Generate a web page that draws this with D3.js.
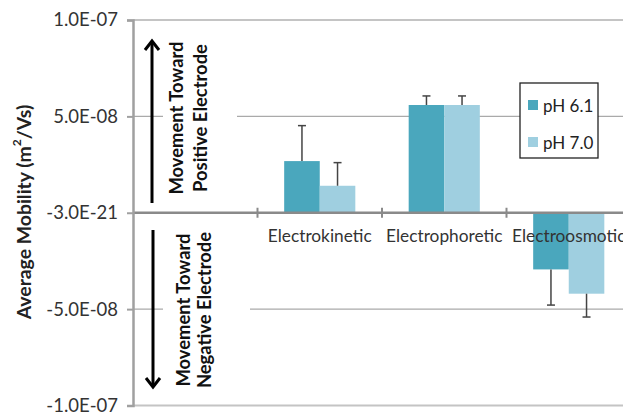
<!DOCTYPE html>
<html lang="en">
<head>
  <meta charset="UTF-8">
  <title>Average Mobility</title>
  <style>
    body { margin: 0; background: #fff; font-family: Lato, "Open Sans", sans-serif; }
    .tick text { fill: #333; }
  </style>
  <script src="https://d3js.org/d3.v7.min.js"></script>
</head>
<body>
  <div id="chart"></div>
  <script>
    var categories = ["", "Electrokinetic", "Electrophoretic", "Electroosmotic"];
    var series = ["pH 6.1", "pH 7.0"];
    var ph61 = [0, 2.68e-8, 5.59e-8, -2.94e-8];
    var ph70 = [0, 1.40e-8, 5.59e-8, -4.20e-8];
    var err61 = [0, 1.84e-8, 0.47e-8, 1.85e-8];
    var err70 = [0, 1.20e-8, 0.47e-8, 1.21e-8];
    var yTicks = [1e-7, 5e-8, 0, -5e-8, -1e-7];
    var yTickLabels = ["1.0E-07", "5.0E-08", "-3.0E-21", "-5.0E-08", "-1.0E-07"];
    var colors = ["#4aa7bd", "#9fcfe0"];

    var width = 623, height = 417;
    var plotL = 133, plotR = 631, plotT = 20, plotB = 405.5;

    var svg = d3.select("#chart").append("svg")
      .attr("width", width).attr("height", height);

    var x = d3.scaleBand().domain(categories).range([plotL, plotR]);
    var xs = d3.scaleBand().domain(series).range([0, x.bandwidth()]).paddingOuter(0.75);
    var y = d3.scaleLinear().domain([-1e-7, 1e-7]).range([plotB, plotT]);

    // gridlines
    svg.append("g").selectAll("line")
      .data(yTicks.filter(function(d) { return d !== 0; }))
      .enter().append("line")
      .attr("x1", plotL).attr("x2", width)
      .attr("y1", function(d) { return y(d); })
      .attr("y2", function(d) { return y(d); })
      .attr("stroke", function(d) { return Math.abs(d) === 1e-7 ? "#c4c4c4" : "#aaa"; })
      .attr("stroke-width", function(d) { return Math.abs(d) === 1e-7 ? 2 : 1.2; });

    // bars
    var rows = categories.map(function(c, i) {
      return [
        { cat: c, s: series[0], v: ph61[i], e: err61[i] },
        { cat: c, s: series[1], v: ph70[i], e: err70[i] }
      ];
    });
    var flat = [].concat.apply([], rows).filter(function(d) { return d.v !== 0; });

    svg.append("g").selectAll("rect")
      .data(flat).enter().append("rect")
      .attr("x", function(d) { return x(d.cat) + xs(d.s); })
      .attr("width", xs.bandwidth())
      .attr("y", function(d) { return y(Math.max(0, d.v)); })
      .attr("height", function(d) { return Math.abs(y(d.v) - y(0)); })
      .attr("fill", function(d) { return colors[series.indexOf(d.s)]; });

    // error bars (one-sided)
    var eb = svg.append("g").attr("stroke", "#444").attr("stroke-width", 1.5);
    flat.forEach(function(d) {
      var cx = x(d.cat) + xs(d.s) + xs.bandwidth() / 2;
      var end = d.v > 0 ? d.v + d.e : d.v - d.e;
      eb.append("line").attr("x1", cx).attr("x2", cx)
        .attr("y1", y(d.v)).attr("y2", y(end));
      eb.append("line").attr("x1", cx - 4).attr("x2", cx + 4)
        .attr("y1", y(end)).attr("y2", y(end));
    });

    // zero axis with category ticks
    svg.append("line")
      .attr("x1", plotL).attr("x2", width)
      .attr("y1", y(0)).attr("y2", y(0))
      .attr("stroke", "#8a8a8a").attr("stroke-width", 2.5);
    svg.append("g").selectAll("line")
      .data(categories.slice(1)).enter().append("line")
      .attr("x1", function(d) { return x(d); })
      .attr("x2", function(d) { return x(d); })
      .attr("y1", y(0) - 5).attr("y2", y(0) + 5)
      .attr("stroke", "#8a8a8a").attr("stroke-width", 2);

    svg.append("g").selectAll("text")
      .data(categories.slice(1)).enter().append("text")
      .attr("x", function(d) { return x(d) + x.bandwidth() / 2; })
      .attr("y", y(0) + 29)
      .attr("text-anchor", "middle")
      .attr("font-size", 17.3)
      .attr("fill", "#333")
      .text(function(d) { return d; });

    // y axis
    var yAxis = d3.axisLeft(y).tickValues(yTicks).tickSize(6).tickPadding(9)
      .tickFormat(function(d, i) { return yTickLabels[i]; });
    var ya = svg.append("g").attr("transform", "translate(" + plotL + ",0)").call(yAxis);
    ya.select(".domain").attr("stroke", "#a0a0a0").attr("stroke-width", 2.5);
    ya.selectAll(".tick line").attr("stroke", "#a0a0a0").attr("stroke-width", 2);
    ya.selectAll(".tick text").attr("font-size", 18.5).attr("font-family", "Lato, sans-serif");

    // axis title
    var title = svg.append("text")
      .attr("transform", "translate(23," + 212 + ") rotate(-90)")
      .attr("text-anchor", "middle")
      .attr("dominant-baseline", "central")
      .attr("font-weight", "bold")
      .attr("font-size", 19.4)
      .attr("fill", "#222");
    title.append("tspan").text("Average Mobility (m");
    title.append("tspan").attr("font-size", 12).attr("dy", -7).text("2");
    title.append("tspan").attr("dy", 7).text("/Vs)");

    // direction annotations
    var notes = [
      { ax: 152, y0: 203, y1: 41, dir: -1, tx: [176, 199.5], cy: 118,
        box: [163, 36, 74, 166], lines: ["Movement Toward", "Positive Electrode"] },
      { ax: 153, y0: 230, y1: 387, dir: 1, tx: [182.5, 203.5], cy: 310,
        box: [163, 228, 87, 164], lines: ["Movement Toward", "Negative Electrode"] }
    ];
    notes.forEach(function(n) {
      svg.append("rect").attr("x", n.box[0]).attr("y", n.box[1])
        .attr("width", n.box[2]).attr("height", n.box[3]).attr("fill", "#fff");
      svg.append("line").attr("x1", n.ax).attr("x2", n.ax)
        .attr("y1", n.y0).attr("y2", n.y1 - n.dir * 1.5)
        .attr("stroke", "#000").attr("stroke-width", 3);
      svg.append("path")
        .attr("d", "M" + (n.ax - 7) + "," + (n.y1 - n.dir * 9) + "L" + n.ax + "," + n.y1 +
          "L" + (n.ax + 7) + "," + (n.y1 - n.dir * 9))
        .attr("fill", "none").attr("stroke", "#000").attr("stroke-width", 3);
      n.lines.forEach(function(t, i) {
        svg.append("text")
          .attr("transform", "translate(" + n.tx[i] + "," + n.cy + ") rotate(-90)")
          .attr("text-anchor", "middle")
          .attr("dominant-baseline", "central")
          .attr("font-weight", "bold")
          .attr("font-size", 18.4)
          .attr("fill", "#111")
          .text(t);
      });
    });

    // legend
    var lg = svg.append("g").attr("transform", "translate(520,83)");
    lg.append("rect").attr("width", 78).attr("height", 75)
      .attr("fill", "#fff").attr("stroke", "#222").attr("stroke-width", 1.3);
    series.forEach(function(s, i) {
      var gy = 22 + i * 37;
      lg.append("rect").attr("x", 8).attr("y", gy - 5).attr("width", 10).attr("height", 10)
        .attr("fill", colors[i]);
      lg.append("text").attr("x", 23).attr("y", gy)
        .attr("dominant-baseline", "central")
        .attr("font-size", 17).attr("fill", "#222").text(s);
    });
  </script>
</body>
</html>
